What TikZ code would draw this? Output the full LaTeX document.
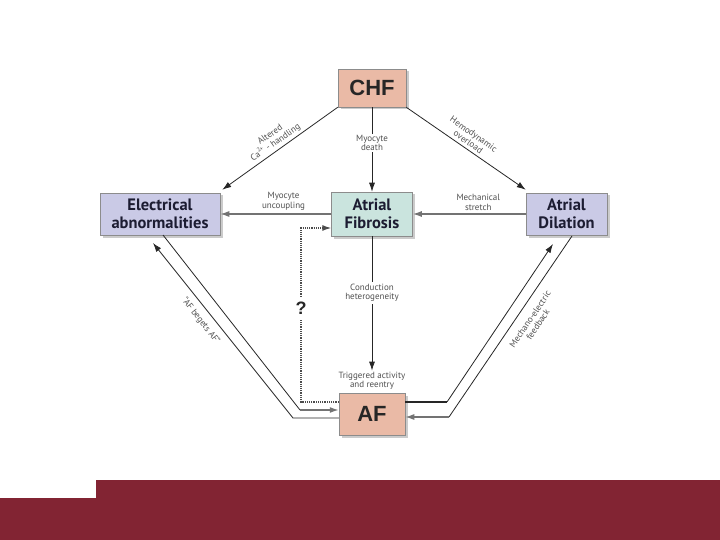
\documentclass[tikz,border=0pt]{standalone}
\usepackage{fontspec}
\setmainfont{PT Sans}
\newfontfamily\arialf{Liberation Sans}
\usetikzlibrary{arrows.meta,shadows,calc}
\definecolor{maroonc}{RGB}{130,36,51}
\definecolor{salc}{RGB}{234,186,166}
\definecolor{lavc}{RGB}{202,202,230}
\definecolor{fibc}{RGB}{202,228,222}
\definecolor{bxtxt}{RGB}{28,28,50}
\definecolor{lblc}{RGB}{80,80,80}
\newcommand\bxfont{\fontsize{16.5}{18}\selectfont\bfseries}
\newcommand\bgfont{\arialf\fontsize{22}{24}\selectfont\bfseries}
\newcommand\lbfont{\fontsize{9}{9.5}\selectfont}
\newcommand\qfont{\arialf\fontsize{18}{20}\selectfont\bfseries}
\begin{document}
\begin{tikzpicture}[x=1pt,y=-1pt,
  box/.style={draw=black!45, line width=0.5pt, inner sep=0pt, align=center,
    text=bxtxt, font=\bxfont,
    drop shadow={shadow xshift=2.5pt, shadow yshift=-2.5pt, fill=black!40}},
  big/.style={box, fill=salc, font=\bgfont, text=black!85},
  lbl/.style={font=\lbfont, text=lblc, align=center, inner sep=1pt},
  arr/.style={-{Latex[length=9pt,width=6pt]}, line width=0.8pt, draw=black!85},
  garr/.style={-{Latex[length=9pt,width=6pt]}, line width=1.4pt, draw=black!55},
  thinl/.style={line width=0.8pt, draw=black!85}]
\fill[white] (0,0) rectangle (720,540);
\useasboundingbox (0,0) rectangle (720,540);
% bottom band
\fill[maroonc] (96,480) rectangle (720,540);
\fill[maroonc] (0,498) rectangle (96,540);
% boxes
\node[big, minimum width=68pt, minimum height=38pt] (chf) at (372,88) {CHF};
\node[box, fill=lavc, minimum width=120pt, minimum height=42pt] (elec) at (160,214) {Electrical\\abnormalities};
\node[box, fill=fibc, minimum width=81pt, minimum height=44pt] (fib) at (372,214) {Atrial\\Fibrosis};
\node[box, fill=lavc, minimum width=81pt, minimum height=42pt] (dil) at (566.5,214) {Atrial\\Dilation};
\node[big, minimum width=66pt, minimum height=42pt] (af) at (372,414) {AF};
\node[lbl, anchor=south] (trig) at ($(af.north)+(0,-2)$) {Triggered activity\\and reentry};
% from CHF
\draw[arr] (chf.south west) -- ($(elec.north east)+(2,-3)$);
\draw[arr] (chf.south east) -- ($(dil.north west)+(0,-3)$);
\draw[arr] (chf) -- node[lbl, fill=white, pos=0.42]{Myocyte\\death} (fib);
\node[lbl, rotate=35] (lca) at (273,139) {Altered\\Ca\textsuperscript{2+} - handling};
\node[lbl, rotate=-35] (lhe) at (471,138) {Hemodynamic\\overload};
% horizontal
\draw[garr] (fib) -- node[lbl, above=2pt, pos=0.43]{Myocyte\\uncoupling} (elec);
\draw[garr] (dil) -- node[lbl, above=2pt, pos=0.42]{Mechanical\\stretch} (fib);
% fibrosis to AF
\draw[arr] (fib) -- node[lbl, fill=white, pos=0.42, inner sep=2pt]{Conduction\\heterogeneity} (trig);
% dotted
\coordinate (q1) at (301,402);
\coordinate (q2) at (301,228);
\draw[densely dotted, line width=1.2pt, draw=black!70, -{Latex[length=9pt,width=6pt]}]
  (af.west |- q1) -- (q1) -- node[fill=white, font=\qfont, text=black!85, pos=0.54, inner sep=5pt]{?} (q2) -- (fib.west |- q2);
% left pair
\coordinate (l1) at (293,418);
\coordinate (l2) at (153,243);
\coordinate (l3) at (163,235);
\coordinate (l4) at (300,410);
\draw[arr] (af.west |- l1) -- (l1) -- (l2);
\draw[thinl] (l3) -- (l4);
\draw[garr] (l4) -- (af.west |- l4);
\node[lbl, rotate=-52] (lbe) at (201,321) {“AF begets AF”};
% right pair
\coordinate (r1) at (447,402);
\coordinate (r2) at (553,244);
\coordinate (r3) at (572,236);
\coordinate (r4) at (449,417);
\draw[line width=1.4pt, draw=black!85] (af.east |- r1) -- (r1);
\draw[arr] (r1) -- (r2);
\draw[thinl] (r3) -- (r4);
\draw[garr] (r4) -- (af.east |- r4);
\node[lbl, rotate=56] (lme) at (534,322) {Mechano-electric\\feedback};
\end{tikzpicture}
\end{document}
